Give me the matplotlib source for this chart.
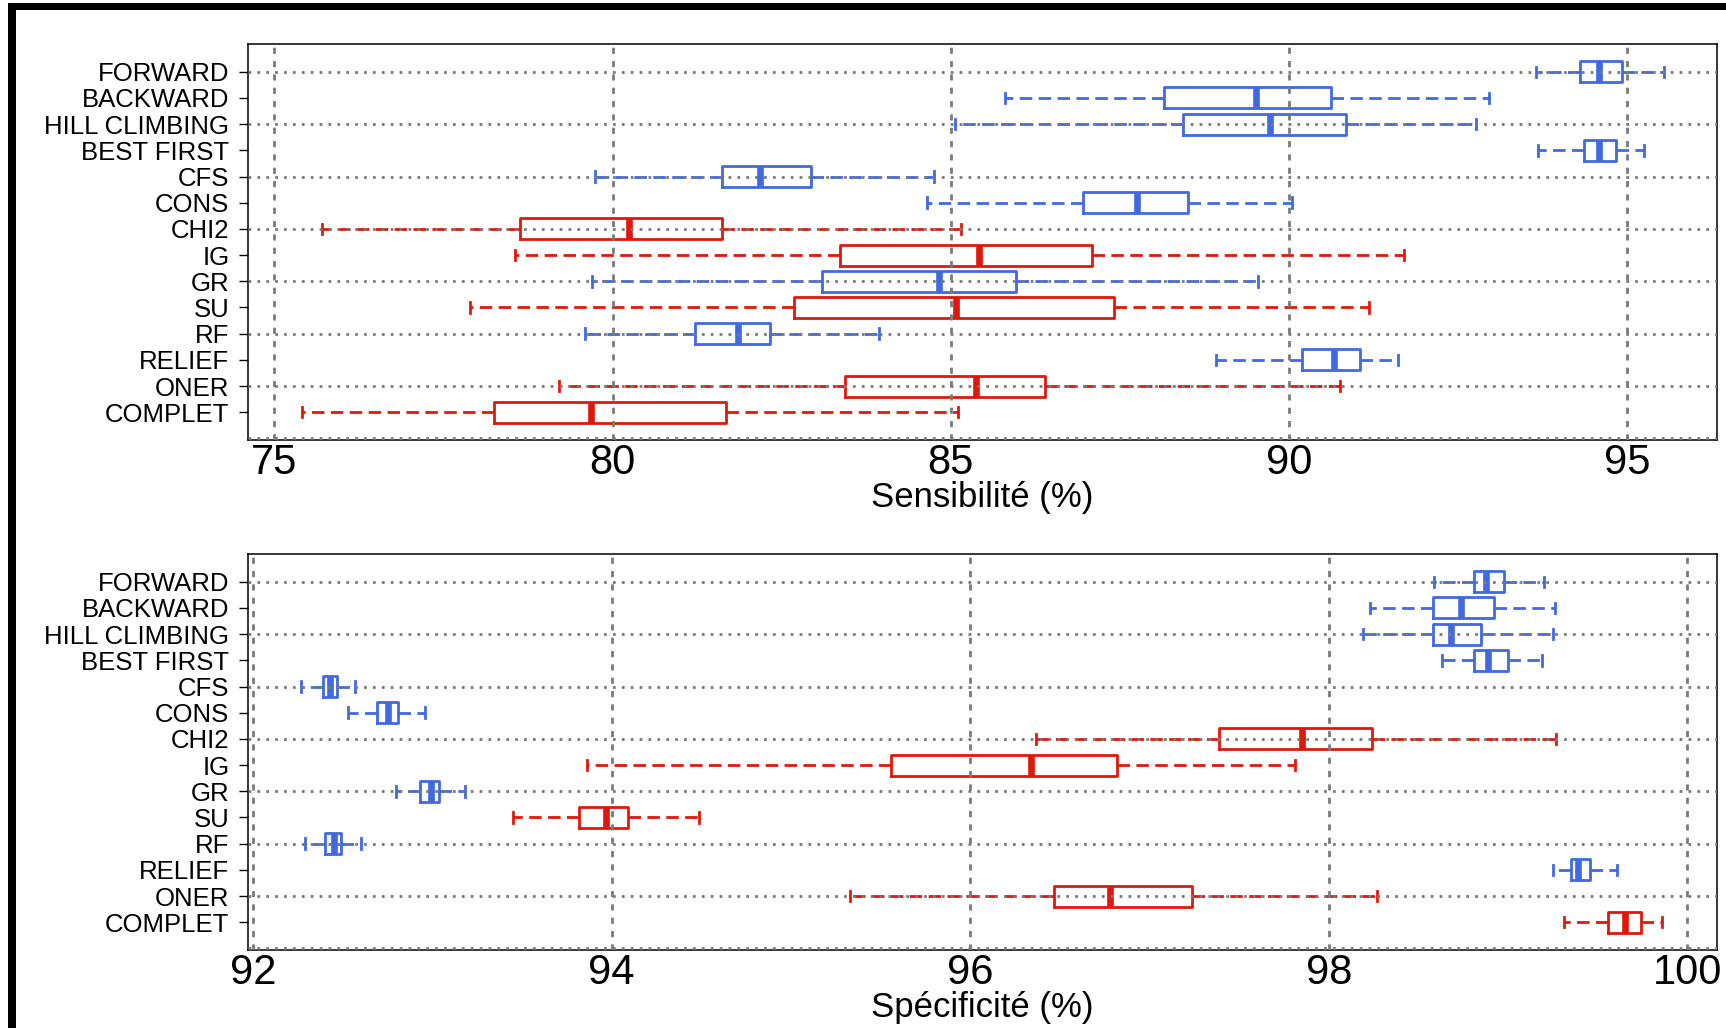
import matplotlib
matplotlib.use("Agg")
import matplotlib.pyplot as plt
from matplotlib.patches import Rectangle

plt.rcParams['font.family'] = ['Liberation Sans', 'DejaVu Sans']

### Données ###
methodes = ["FORWARD", "BACKWARD", "HILL CLIMBING", "BEST FIRST", "CFS", "CONS", "CHI2",
            "IG", "GR", "SU", "RF", "RELIEF", "ONER", "COMPLET"]
rouges = ["CHI2", "IG", "SU", "ONER", "COMPLET"]

# whisker bas, Q1, médiane, Q3, whisker haut
sens_min = [93.66, 85.81, 85.06, 93.68, 79.74, 84.65, 75.71, 78.56, 79.70, 77.89, 79.60, 88.92, 79.21, 75.41]
sens_q1  = [94.30, 88.15, 88.43, 94.36, 81.62, 86.96, 78.63, 83.37, 83.09, 82.68, 81.22, 90.19, 83.44, 78.25]
sens_med = [94.59, 89.52, 89.72, 94.58, 82.18, 87.76, 80.25, 85.42, 84.82, 85.08, 81.86, 90.66, 85.37, 79.68]
sens_q3  = [94.93, 90.62, 90.85, 94.83, 82.93, 88.51, 81.62, 87.09, 85.97, 87.42, 82.33, 91.05, 86.39, 81.68]
sens_max = [95.55, 92.96, 92.76, 95.25, 84.75, 90.04, 85.15, 91.70, 89.55, 91.18, 83.94, 91.61, 90.75, 85.11]

spec_min = [98.59, 98.23, 98.19, 98.63, 92.27, 92.53, 96.37, 93.86, 92.80, 93.45, 92.29, 99.25, 95.33, 99.31]
spec_q1  = [98.81, 98.58, 98.58, 98.81, 92.39, 92.69, 97.39, 95.56, 92.93, 93.82, 92.40, 99.35, 96.47, 99.56]
spec_med = [98.88, 98.74, 98.68, 98.89, 92.43, 92.75, 97.85, 96.34, 92.99, 93.97, 92.45, 99.39, 96.78, 99.65]
spec_q3  = [98.98, 98.92, 98.85, 99.00, 92.47, 92.81, 98.24, 96.82, 93.04, 94.09, 92.49, 99.46, 97.24, 99.74]
spec_max = [99.20, 99.26, 99.25, 99.19, 92.57, 92.96, 99.27, 97.81, 93.18, 94.49, 92.60, 99.61, 98.27, 99.86]

sens_ticks = [75, 80, 85, 90, 95]
spec_ticks = [92, 94, 96, 98, 100]

BLEU = '#4169E1'
ROUGE = '#E0180C'
GRIS = '#7a7a7a'

n = len(methodes)
positions = list(range(n, 0, -1))   # FORWARD en haut


def trace(ax, mins, q1s, meds, q3s, maxs, ticks, xlim, label):
    for couleur, rouge in [(BLEU, False), (ROUGE, True)]:
        stats, pos = [], []
        for i, m in enumerate(methodes):
            if (m in rouges) != rouge:
                continue
            stats.append(dict(med=meds[i], q1=q1s[i], q3=q3s[i],
                              whislo=mins[i], whishi=maxs[i], fliers=[]))
            pos.append(positions[i])
        ax.bxp(stats, positions=pos, widths=0.8, capwidths=0.4, orientation='horizontal',
               manage_ticks=False, showfliers=False,
               boxprops=dict(color=couleur, linewidth=2),
               medianprops=dict(color=couleur, linewidth=4.8, solid_capstyle='butt'),
               whiskerprops=dict(color=couleur, linewidth=2, linestyle=(0, (4.5, 2.3))),
               capprops=dict(color=couleur, linewidth=2))

    # grille
    for t in ticks:
        ax.axvline(t, color=GRIS, linewidth=2, linestyle=(0, (2.2, 2.6)), zorder=3)
    for g in range(0, 15, 2):
        ax.axhline(g, color=GRIS, linewidth=2, linestyle=(0, (1, 2.2)), zorder=3)

    ax.set_xlim(xlim)
    ax.set_ylim(-0.06, 15.06)
    ax.set_yticks(positions)
    ax.set_yticklabels(methodes, fontsize=18.5)
    ax.set_xticks(ticks)
    ax.set_xticklabels([str(t) for t in ticks], fontsize=30)
    ax.tick_params(axis='y', length=6.5, width=1, pad=7)
    ax.tick_params(axis='x', length=3, width=1, direction='in', pad=2)
    ax.set_xlabel(label, fontsize=25, labelpad=-1)
    for s in ax.spines.values():
        s.set_linewidth(1.1)


fig = plt.figure(figsize=(17.26, 10.28), dpi=100)

ax1 = fig.add_axes([0.1437, 0.5720, 0.8511, 0.3852])
trace(ax1, sens_min, sens_q1, sens_med, sens_q3, sens_max, sens_ticks, (74.611, 96.33), "Sensibilité (%)")

ax2 = fig.add_axes([0.1437, 0.0759, 0.8511, 0.3852])
trace(ax2, spec_min, spec_q1, spec_med, spec_q3, spec_max, spec_ticks, (91.972, 100.166), "Spécificité (%)")

### Cadre noir (bord gauche et haut) ###
fig.patches.append(Rectangle((8 / 1726, 0), 8 / 1726, 1 - 3 / 1028, transform=fig.transFigure,
                             facecolor='black', edgecolor='none'))
fig.patches.append(Rectangle((8 / 1726, 1 - 10 / 1028), 1, 7 / 1028, transform=fig.transFigure,
                             facecolor='black', edgecolor='none'))

fig.savefig("out.png", dpi=100)
